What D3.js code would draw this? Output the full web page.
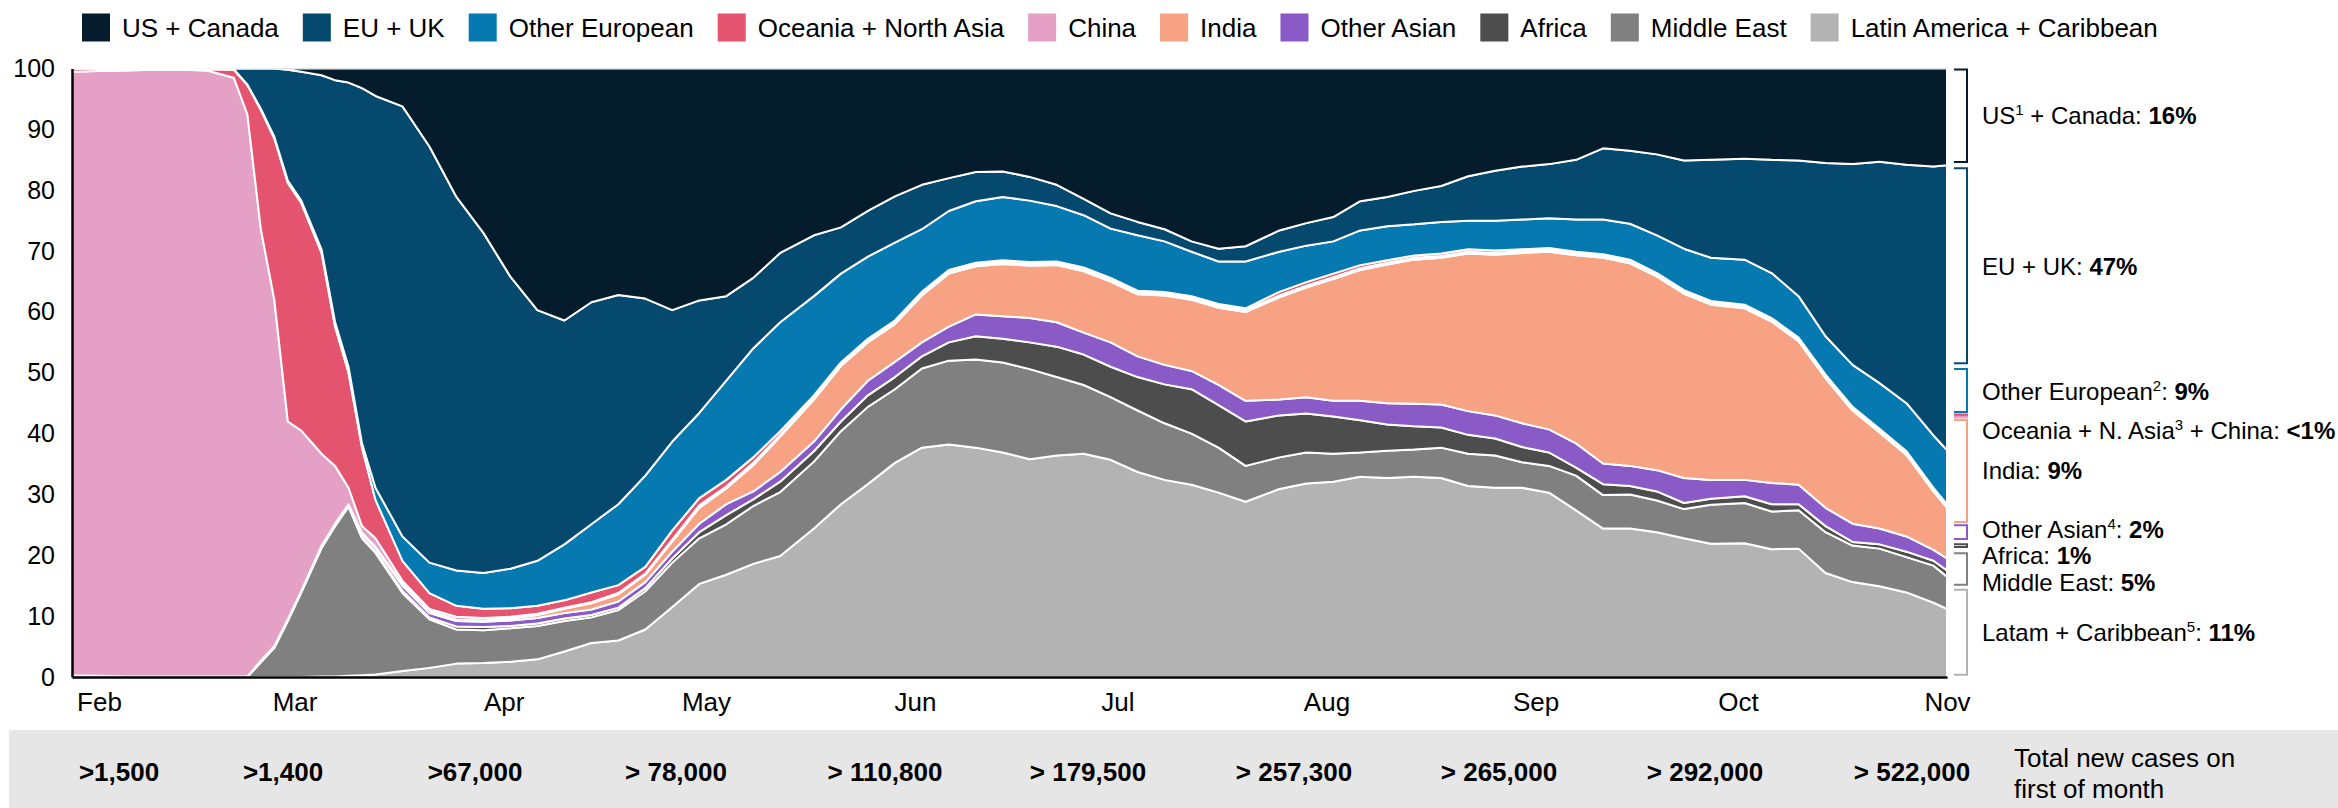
<!DOCTYPE html>
<html>
<head>
<meta charset="utf-8">
<script src="https://cdnjs.cloudflare.com/ajax/libs/d3/7.8.5/d3.min.js"></script>
<style>
  body { margin: 0; background: #ffffff; }
  svg { display: block; font-family: "Liberation Sans", Arial, Helvetica, sans-serif; }
</style>
</head>
<body>
<svg id="chart" width="2338" height="808"></svg>
<script>
// ---------------- DATA ----------------
const dates = [
  "2020-01-28","2020-02-01","2020-02-05","2020-02-09","2020-02-13","2020-02-17","2020-02-21","2020-02-23","2020-02-25","2020-02-27","2020-02-29",
  "2020-03-02","2020-03-05","2020-03-07","2020-03-09","2020-03-11","2020-03-13","2020-03-17","2020-03-21","2020-03-25","2020-03-29",
  "2020-04-02","2020-04-06","2020-04-10","2020-04-14","2020-04-18","2020-04-22","2020-04-26","2020-04-30",
  "2020-05-04","2020-05-08","2020-05-12","2020-05-17","2020-05-21","2020-05-25","2020-05-29",
  "2020-06-02","2020-06-06","2020-06-10","2020-06-14","2020-06-18","2020-06-22","2020-06-26","2020-06-30",
  "2020-07-04","2020-07-08","2020-07-12","2020-07-16","2020-07-20","2020-07-25","2020-07-29",
  "2020-08-02","2020-08-06","2020-08-10","2020-08-14","2020-08-18","2020-08-22","2020-08-26","2020-08-30",
  "2020-09-03","2020-09-07","2020-09-11","2020-09-15","2020-09-19","2020-09-23","2020-09-27",
  "2020-10-02","2020-10-06","2020-10-10","2020-10-14","2020-10-18","2020-10-22","2020-10-26","2020-10-30","2020-11-01"
];

// share of new cases (%), one value per date
const latinAmerica = [0,0,0,0,0,0,0,0,0,0,0, 0,0.1,0.1,0.2,0.3,0.4,1.0,1.5,2.2,2.3, 2.5,2.9,4.2,5.6,6.0,7.8,11.5,15.3,
  16.8,18.6,19.9,24.4,28.4,31.7,35.2, 37.7,38.2,37.7,36.9,35.8,36.4,36.7,35.7, 33.7,32.4,31.6,30.3,28.8,30.9,31.8,
  32.1,32.9,32.7,32.9,32.7,31.4,31.1,31.1, 30.3,27.4,24.4,24.4,23.8,22.8,21.9, 22.0,21.0,21.1,17.1,15.6,14.9,13.9,12.2,11.2];
const middleEast = [0,0,0,0,0,0,0,0,2.4,4.8,9.2, 13.9,21.1,24.7,27.8,22.5,20.0,12.8,8.0,5.6,5.4, 5.5,5.5,5.0,4.2,5.0,6.3,7.3,7.5,
  8.3,9.5,10.5,11.0,12.0,12.7,12.1, 13.0,13.8,14.5,14.8,14.8,12.9,11.3,10.3, 10.1,9.3,8.4,7.4,5.9,5.2,5.1,
  4.6,4.0,4.5,4.5,5.0,5.3,5.3,4.2, 4.4,5.7,5.5,5.6,5.2,4.8,6.4, 6.6,6.2,6.3,6.7,6.0,6.2,5.8,6.1,5.3];
const africa = [0,0,0,0,0,0,0,0,0.1,0.1,0.1, 0.1,0.1,0.1,0.1,0.2,0.2,0.4,0.3,0.5,0.5, 0.4,0.4,0.4,0.4,0.4,0.5,0.7,1.0,
  1.5,1.1,1.7,1.7,1.6,1.9,2.0, 2.0,3.0,3.8,3.9,4.4,5.0,5.0,5.0, 5.5,6.4,7.3,7.0,7.3,6.9,6.4,
  6.1,5.3,4.3,3.8,3.3,3.1,2.8,2.5, 2.2,1.3,1.8,1.4,1.5,1.0,1.0, 1.1,1.2,1.0,1.0,0.6,0.7,0.9,0.8,1.0];
const otherAsian = [0.3,0.2,0.1,0.1,0.1,0.1,0.1,0.1,0.1,0.1,0.1, 0.1,0.2,0.2,0.2,0.5,0.6,0.8,0.7,0.9,0.9, 0.9,0.9,0.9,0.9,1.0,1.0,1.1,1.4,
  1.8,1.3,1.6,1.6,2.0,2.4,2.5, 2.3,2.6,3.6,3.7,4.0,4.0,3.6,4.0, 3.4,3.2,3.0,3.3,3.4,2.6,2.7,
  2.6,3.2,3.5,3.7,3.8,3.9,3.8,3.9, 3.8,4.0,3.4,3.3,3.5,4.1,3.1, 2.7,3.5,3.2,3.0,3.0,2.6,2.5,1.8,2.0];
const india = [0,0,0,0,0,0,0,0,0.1,0.1,0.1, 0.1,0.1,0.1,0.1,0.2,0.2,0.3,0.4,0.2,0.2, 0.3,0.5,0.7,1.0,1.2,1.2,1.7,2.6,
  2.6,4.3,5.8,6.9,7.1,6.3,6.2, 7.7,8.7,7.9,8.6,8.6,9.4,10.1,10.0, 10.2,11.4,11.7,12.7,14.6,16.8,18.0,
  20.0,21.5,22.8,23.7,24.1,25.9,26.4,28.0, 29.2,30.9,33.8,33.3,31.8,30.3,28.8, 28.2,26.5,23.6,21.3,18.6,15.8,13.4,9.6,8.3];
const china = [99.2,99.4,99.6,99.7,99.7,99.6,98.4,92.4,70.9,56.9,32.5, 26.3,15.1,9.5,2.7,1.1,1.4,0.5,0.3,0.5,0.4, 0.3,0.2,0.2,0.2,0.2,0.2,0.3,0.4,
  0.3,0.4,0.3,0.3,0.3,0.3,0.3, 0.3,0.3,0.3,0.3,0.3,0.3,0.3,0.3, 0.3,0.3,0.3,0.3,0.3,0.3,0.3,
  0.3,0.3,0.3,0.3,0.3,0.3,0.3,0.3, 0.3,0.3,0.3,0.3,0.3,0.3,0.3, 0.3,0.3,0.3,0.3,0.3,0.3,0.3,0.3,0.3];
const oceaniaNorthAsia = [0.5,0.4,0.3,0.2,0.2,0.2,1.3,4.8,19.6,26.5,39.2, 37.4,33.0,22.9,18.9,12.9,6.3,3.3,2.6,1.8,1.5, 1.4,1.3,1.2,1.6,1.3,1.1,1.5,1.2,
  1.1,0.9,0.6,0.4,0.3,0.3,0.3, 0.3,0.3,0.3,0.3,0.3,0.3,0.3,0.3, 0.3,0.3,0.3,0.3,0.3,0.6,0.6,
  0.6,0.5,0.4,0.4,0.4,0.4,0.4,0.3, 0.3,0.3,0.3,0.3,0.3,0.3,0.3, 0.3,0.3,0.3,0.3,0.3,0.3,0.3,0.3,0.3];
const otherEuropean = [0,0,0,0,0,0.1,0.1,0.1,0.2,0.3,0.4, 0.4,0.6,0.8,1.0,0.7,2.0,4.0,5.0,5.8,5.9, 6.5,7.4,9.2,11.2,13.3,15.0,14.6,14.0,
  16.3,17.9,17.9,16.3,14.6,13.5,12.8, 10.3,9.7,10.1,10.4,10.1,9.1,8.6,8.1, 9.1,8.3,7.3,7.0,7.7,6.6,6.0,
  5.3,5.7,5.6,5.1,5.2,4.7,4.9,4.9, 4.9,5.3,5.7,5.9,6.2,6.8,7.1, 7.4,7.4,6.8,6.3,6.9,7.5,7.9,8.6,8.9];
const euUk = [0,0,0,0,0,0,0.1,2.6,6.6,11.2,18.2, 21.2,28.6,39.7,46.7,58.4,64.4,70.7,68.4,61.4,55.9, 48.0,41.2,36.8,36.5,34.4,29.1,21.6,18.5,
  13.9,11.6,11.4,10.0,7.6,7.5,7.6, 7.3,5.4,4.8,4.2,3.9,3.5,2.7,2.5, 2.2,2.0,1.7,2.1,2.5,3.5,3.7,
  4.0,4.8,4.8,5.5,5.9,7.3,8.2,8.7, 8.9,9.8,11.7,12.0,13.3,14.5,16.1, 16.6,18.6,22.3,28.5,33.0,36.4,39.2,44.2,46.8];
const usCanada = [0,0,0,0,0,0,0,0,0,0,0.2, 0.5,1.1,1.9,2.3,3.2,4.5,6.2,12.8,21.1,27.0, 34.2,39.7,41.4,38.4,37.2,37.8,39.7,38.1,
  37.4,34.4,30.3,27.4,26.1,23.4,21.0, 19.1,18.0,17.0,16.9,17.8,19.1,21.4,23.8, 25.2,26.4,28.4,29.6,29.2,26.6,25.4,
  24.4,21.8,21.1,20.1,19.3,17.7,16.8,16.1, 15.7,15.0,13.1,13.5,14.1,15.1,15.0, 14.8,15.0,15.1,15.5,15.7,15.3,15.8,16.1,15.9];

const seriesNames = ["US + Canada","EU + UK","Other European","Oceania + North Asia","China","India","Other Asian","Africa","Middle East","Latin America + Caribbean"];
const seriesColors = ["#051c2c","#054a6e","#0679b1","#e5546e","#e5a0c6","#f7a283","#8a5ac6","#4d4d4d","#808080","#b3b3b3"];

const yTicks = [0,10,20,30,40,50,60,70,80,90,100];
const monthTicks = ["2020-02-01","2020-03-01","2020-04-01","2020-05-01","2020-06-01","2020-07-01","2020-08-01","2020-09-01","2020-10-01","2020-11-01"];
const totalLabels = [">1,500",">1,400",">67,000","> 78,000","> 110,800","> 179,500","> 257,300","> 265,000","> 292,000","> 522,000"];
const totalsCaption = ["Total new cases on","first of month"];

// right-hand annotations (final shares)
const annNames = ["US","EU + UK","Other European","Oceania + N. Asia","India","Other Asian","Africa","Middle East","Latam + Caribbean"];
const annSups = ["1","","2","3","","4","","","5"];
const annSuffix = [" + Canada: ",": ",": "," + China: ",": ",": ",": ",": ",": "];
const annValues = ["16%","47%","9%","<1%","9%","2%","1%","5%","11%"];

// ---------------- LAYOUT ----------------
const W = 2338, H = 808;
const plot = { left: 72, right: 1947, top: 68.6, bottom: 677 };
const bracketRanges = [[100,84.5],[83.8,51.4],[50.8,43.4],[43.2,43.0],[42.8,42.6],[42.4,25.3],[25.1,22.5],[22.0,21.2],[20.5,15.0],[14.5,0.2]];
const bracketColorIdx = [0,1,2,3,4,5,6,7,8,9];
const annLabelY = [116,267,392,431,471,530,556,583,633];
const totalsX = [119,283,475,676,885,1088,1294,1499,1705,1912];

const parse = d3.timeParse("%Y-%m-%d");
const svg = d3.select("#chart");

const keys = ["latam","middleEast","africa","otherAsian","india","china","oceania","otherEuropean","euUk","usCanada"];
const colorByKey = {
  usCanada: seriesColors[0], euUk: seriesColors[1], otherEuropean: seriesColors[2], oceania: seriesColors[3],
  china: seriesColors[4], india: seriesColors[5], otherAsian: seriesColors[6], africa: seriesColors[7],
  middleEast: seriesColors[8], latam: seriesColors[9]
};
const rows = dates.map((d, i) => ({
  date: parse(d),
  latam: latinAmerica[i], middleEast: middleEast[i], africa: africa[i], otherAsian: otherAsian[i],
  india: india[i], china: china[i], oceania: oceaniaNorthAsia[i], otherEuropean: otherEuropean[i],
  euUk: euUk[i], usCanada: usCanada[i]
}));

const x = d3.scaleTime().domain([parse(dates[0]), parse(dates[dates.length - 1])]).range([plot.left, plot.right]);
const y = d3.scaleLinear().domain([0, 100]).range([plot.bottom, plot.top]);

const stacked = d3.stack().keys(keys).order(d3.stackOrderNone).offset(d3.stackOffsetNone)(rows);

svg.append("defs").append("clipPath").attr("id", "plotClip")
  .append("rect").attr("x", plot.left).attr("y", plot.top)
  .attr("width", plot.right - plot.left).attr("height", plot.bottom - plot.top);

const area = d3.area()
  .x(d => x(d.data.date))
  .y0(d => y(d[0]))
  .y1(d => y(d[1]))
  .curve(d3.curveLinear);

svg.append("g").attr("clip-path", "url(#plotClip)")
  .selectAll("path").data(stacked).join("path")
  .attr("d", area)
  .attr("fill", s => colorByKey[s.key])
  .attr("stroke", "#ffffff")
  .attr("stroke-width", 2)
  .attr("stroke-linejoin", "round");

// ---------------- AXES ----------------
const yAxis = svg.append("g").attr("transform", `translate(${plot.left},0)`)
  .call(d3.axisLeft(y).tickValues(yTicks).tickSize(0).tickPadding(17).tickFormat(d3.format("d")));
yAxis.select(".domain").attr("stroke", "#000").attr("stroke-width", 2.5);
yAxis.selectAll("text").attr("font-size", 25).attr("fill", "#000").attr("font-family", "Liberation Sans, Arial, sans-serif");

const xAxis = svg.append("g").attr("transform", `translate(0,${plot.bottom})`)
  .call(d3.axisBottom(x).tickValues(monthTicks.map(parse)).tickSize(0).tickFormat(d3.timeFormat("%b")));
xAxis.select(".domain").attr("stroke", "#000").attr("stroke-width", 2.5);
xAxis.selectAll("text").attr("font-size", 26).attr("fill", "#000")
  .attr("y", 25).attr("dy", "0.35em").attr("font-family", "Liberation Sans, Arial, sans-serif");

// ---------------- LEGEND ----------------
const legend = svg.append("g");
let lx = 82;
seriesNames.forEach((name, i) => {
  legend.append("rect").attr("x", lx).attr("y", 13.5).attr("width", 28).attr("height", 28).attr("fill", seriesColors[i]);
  const t = legend.append("text").attr("x", lx + 40).attr("y", 28).attr("dy", "0.35em")
    .attr("font-size", 26).attr("fill", "#000").text(name);
  lx += 40 + t.node().getComputedTextLength() + 24;
});

// ---------------- RIGHT BRACKETS + LABELS ----------------
const br = svg.append("g");
bracketRanges.forEach((r, i) => {
  const y0 = y(r[0]) + 1, y1 = y(r[1]) - 1;
  const col = seriesColors[bracketColorIdx[i]];
  br.append("path")
    .attr("d", `M1954,${y0}H1967V${y1}H1954`)
    .attr("fill", "none").attr("stroke", col).attr("stroke-width", 2);
});
annNames.forEach((n, i) => {
  const t = br.append("text").attr("x", 1982).attr("y", annLabelY[i]).attr("dy", "0.35em")
    .attr("font-size", 24).attr("fill", "#000");
  t.append("tspan").text(n);
  if (annSups[i]) {
    t.append("tspan").attr("font-size", 15).attr("dy", -9).text(annSups[i]);
    t.append("tspan").attr("dy", 9).text(annSuffix[i]);
  } else {
    t.append("tspan").text(annSuffix[i]);
  }
  t.append("tspan").attr("font-weight", "bold").text(annValues[i]);
});

// ---------------- TOTALS BAND ----------------
svg.append("rect").attr("x", 9).attr("y", 730).attr("width", W - 9).attr("height", H - 730).attr("fill", "#e6e6e6");
svg.append("g").selectAll("text").data(totalLabels).join("text")
  .attr("x", (d, i) => totalsX[i]).attr("y", 772).attr("dy", "0.35em")
  .attr("text-anchor", "middle").attr("font-size", 26).attr("font-weight", "bold").attr("fill", "#000")
  .style("white-space", "pre")
  .text(d => d);
svg.append("g").selectAll("text").data(totalsCaption).join("text")
  .attr("x", 2014).attr("y", (d, i) => 758 + i * 31).attr("dy", "0.35em")
  .attr("font-size", 26).attr("fill", "#000").text(d => d);
</script>
</body>
</html>
